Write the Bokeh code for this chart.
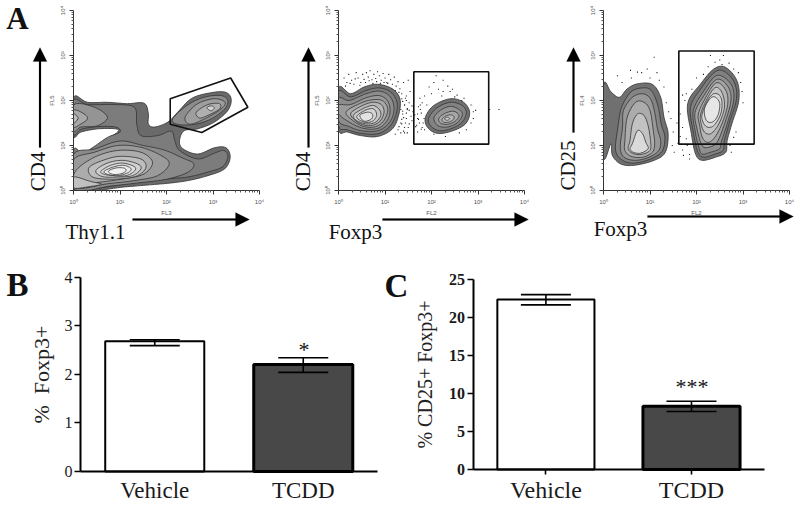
import math
from bokeh.plotting import figure
from bokeh.layouts import column, row
from bokeh.models import (PolyAnnotation, Label, FixedTicker, Range1d, Whisker,
                          TeeHead, ColumnDataSource)
from bokeh.embed import file_html
from bokeh.resources import INLINE

# ---- Bar chart data -------------------------------------------------------
CATS = ["Vehicle", "TCDD"]
CAT_POS = [1, 2]
B_MEAN = [2.68, 2.20]
B_UP = [2.71, 2.34]
B_LO = [2.59, 2.04]
C_MEAN = [22.4, 8.35]
C_UP = [23.05, 9.0]
C_LO = [21.7, 7.65]
B_TICKS = [0, 1, 2, 3, 4]
C_TICKS = [0, 5, 10, 15, 20, 25]

# ---- Flow plots: contours, hundredths of a decade ---------------------------
DECADE_TICKS = [1, 10, 100, 1000, 10000]
DECADE_LABELS = ["10⁰", "10¹", "10²", "10³", "10⁴"]

A1_RINGS = [
    [(0,207),(30,196),(73,196),(116,193),(152,194),(161,170),(161,148),(174,141),(203,152),(224,174),(253,204),(289,216),(325,219),(339,204),(332,178),(303,152),(267,137),(238,133),(228,111),(235,93),(267,81),(303,95),(328,95),(337,74),(325,48),(289,33),(246,22),(203,16),(145,11),(102,7),(52,0),(0,-4),(0,85),(19,80),(41,93),(73,115),(95,130),(91,137),(52,137),(16,130),(0,122)],
    [(0,200),(30,191),(88,191),(131,185),(136,148),(145,122),(181,122),(210,132),(218,111),(228,89),(267,70),(303,83),(323,89),(332,76),(321,53),(289,41),(246,30),(203,26),(145,19),(102,13),(45,4),(0,1),(0,90),(20,83),(42,96),(73,118),(100,130),(91,141),(52,142),(16,136),(0,126)],
    [(0,190),(45,185),(73,163),(52,144),(16,141),(0,133)],
    [(0,178),(23,170),(30,159),(16,148),(0,142)],
    [(0,170),(10,161),(0,150)],
    [(213,159),(244,189),(280,207),(317,211),(332,200),(325,181),(296,159),(260,147),(224,147)],
    [(242,167),(267,193),(303,204),(326,196),(317,181),(289,163),(256,148),(242,152)],
    [(264,174),(289,191),(314,193),(314,181),(289,167),(271,161)],
    [(287,184),(296,188),(303,184),(296,177)],
    [(0,80),(45,92),(100,110),(150,100),(195,90),(235,72),(259,59),(245,40),(200,25),(140,17),(80,10),(0,2)],
    [(0,68),(45,85),(95,100),(145,96),(188,78),(206,59),(181,33),(131,22),(73,15),(0,7)],
    [(5,44),(45,74),(95,89),(145,85),(170,63),(152,37),(109,26),(52,18),(1,13)],
    [(0,30),(37,20),(60,14),(30,8),(0,6)],
    [(34,52),(66,68),(102,76),(145,70),(156,52),(138,33),(102,26),(59,26),(37,33)],
    [(48,44),(73,61),(106,67),(138,59),(145,48),(127,33),(95,30),(62,31)],
    [(59,43),(80,56),(106,61),(131,53),(131,43),(113,33),(88,33),(66,36)],
    [(66,43),(88,53),(109,56),(124,48),(116,39),(95,33),(73,36)],
    [(75,43),(91,50),(108,50),(113,44),(102,37),(84,36)],
]
A1_GREYS = ["#6a6a6a", "#7c7c7c", "#949494", "#a8a8a8", "#bcbcbc",
            "#8c8c8c", "#9e9e9e", "#b0b0b0", "#d4d4d4",
            "#8a8a8a", "#9a9a9a", "#acacac", "#c0c0c0", "#bebebe", "#d0d0d0", "#dedede", "#e8e8e8", "#f0f0f0"]
A1_GATE = [(208,204),(338,250),(375,185),(276,129),(208,147)]

A2_RINGS = [
    [(0,228),(26,215),(55,230),(84,236),(116,226),(132,204),(130,170),(116,137),(84,120),(48,122),(19,130),(0,135)],
    [(0,220),(26,208),(59,222),(87,228),(112,219),(126,196),(123,167),(109,141),(84,126),(48,127),(19,135),(0,144)],
    [(0,205),(23,200),(59,215),(87,221),(109,211),(119,189),(116,163),(101,142),(80,132),(48,133),(23,142),(0,155)],
    [(0,190),(26,191),(59,206),(87,211),(105,200),(111,178),(105,156),(87,139),(59,137),(30,148),(0,170)],
    [(16,174),(41,191),(69,201),(94,200),(106,181),(98,156),(80,142),(55,142),(30,156)],
    [(26,170),(48,187),(73,196),(92,191),(98,174),(89,154),(69,144),(44,150)],
    [(32,167),(51,181),(73,189),(87,181),(91,167),(80,152),(62,148),(41,154)],
    [(39,164),(59,179),(76,181),(82,167),(73,154),(55,152)],
    [(46,167),(62,174),(73,170),(71,159),(55,154)],
    [(187,163),(205,189),(241,204),(269,196),(282,174),(273,148),(244,132),(212,127),(191,141)],
    [(194,161),(212,184),(241,196),(266,189),(275,172),(264,150),(241,137),(216,133),(198,144)],
    [(205,161),(219,178),(241,187),(261,179),(266,167),(255,150),(234,141),(214,144)],
    [(216,161),(230,172),(248,176),(259,167),(251,154),(234,147),(219,150)],
    [(223,159),(234,167),(246,167),(248,159),(237,152),(226,152)],
    [(228,159),(234,163),(239,160),(234,156)],
]
A2_GREYS = ["#707070", "#7e7e7e", "#8c8c8c", "#9a9a9a", "#a8a8a8", "#b8b8b8", "#c8c8c8", "#d6d6d6", "#e2e2e2",
            "#707070", "#828282", "#949494", "#a6a6a6", "#b8b8b8", "#cecece"]
A2_GATE = [(162,264),(323,264),(323,103),(162,103)]
A2_DOTS_X = [12,18,22,28,33,38,42,48,52,55,60,64,68,72,76,80,84,88,92,96,100,104,108,112,116,120,124,128,132,136,140,144,138,142,134,146,140,136,144,150,128,134,148,152,156,146,154,142,122,150,158,160,170,172,176,168,180,175,185,190,195,205,210,225,235,240,215,200,222,255,270,285,290,295,285,290,275,260,230,205,345,325,180,185,250,265,245,225,
             15,25,36,46,58,66,74,82,90,98,106,114,122,130,126,136,142,148,138,132,146,152,136,142,148,140,134,130,138,146,152,158,164,170,174,166,172,178,182,176,184,170,178]
A2_DOTS_Y = [250,240,258,245,236,262,250,240,258,247,262,252,266,246,258,249,264,255,245,260,250,240,258,246,236,252,232,242,226,215,240,205,198,190,180,172,162,148,150,140,135,128,180,195,165,210,220,128,125,245,155,175,170,158,180,145,195,205,210,190,230,240,255,245,232,220,225,215,210,212,205,190,175,178,150,160,135,128,120,125,180,180,140,135,208,200,225,220,
             232,238,248,234,240,244,238,242,238,240,238,226,222,218,208,204,190,182,170,196,160,148,158,140,128,132,150,142,176,200,178,188,168,160,150,142,186,172,150,190,160,130,136]

A3_RINGS = [
    [(0,233),(16,219),(34,207),(51,226),(73,237),(105,236),(123,207),(130,163),(139,126),(133,85),(109,67),(66,56),(37,59),(19,78),(16,104),(0,74)],
    [(31,141),(39,185),(59,219),(84,228),(103,222),(117,189),(124,148),(132,119),(126,87),(101,70),(66,61),(41,67),(26,89)],
    [(41,141),(43,178),(62,207),(84,215),(101,204),(110,174),(116,137),(123,111),(119,89),(98,74),(69,67),(44,74),(36,96)],
    [(46,111),(51,163),(69,196),(87,196),(100,178),(107,133),(110,104),(105,85),(84,74),(59,76),(46,89)],
    [(57,111),(62,148),(73,170),(87,167),(96,144),(101,111),(100,89),(80,80),(62,83),(53,93)],
    [(62,104),(73,133),(84,126),(91,107),(96,93),(80,83),(64,85),(57,93)],
    [(181,193),(209,237),(237,270),(262,274),(287,244),(291,200),(276,148),(266,111),(263,85),(241,74),(212,67),(198,81),(189,126)],
    [(187,185),(212,230),(239,263),(259,265),(281,241),(286,204),(271,152),(260,111),(257,89),(237,80),(216,74),(203,85),(194,126)],
    [(193,178),(216,222),(239,253),(257,253),(276,233),(280,200),(266,148),(253,107),(250,93),(230,85),(212,81),(205,96),(197,133)],
    [(197,174),(216,211),(239,244),(256,244),(272,222),(273,193),(259,144),(244,107),(226,96),(212,100),(201,137)],
    [(204,170),(220,207),(239,237),(253,236),(266,215),(266,185),(253,144),(237,115),(223,107),(212,119),(207,144)],
    [(209,170),(223,204),(239,228),(251,224),(259,204),(259,178),(246,144),(230,126),(217,130),(210,148)],
    [(212,170),(224,200),(237,215),(250,211),(255,193),(251,167),(237,144),(223,141),(214,152)],
    [(217,181),(230,205),(241,207),(250,193),(246,167),(234,152),(221,156)],
]
A3_GREYS = ["#707070", "#848484", "#989898", "#acacac", "#c2c2c2", "#dadada",
            "#707070", "#808080", "#909090", "#a2a2a2", "#b4b4b4", "#c6c6c6", "#d6d6d6", "#e6e6e6"]
A3_GATE = [(162,310),(324,310),(324,103),(162,103)]
A3_DOTS_X = [58,73,109,94,82,60,30,40,100,120,115,130,135,140,145,150,148,152,160,165,170,158,165,170,175,180,178,185,172,170,178,190,200,215,225,240,250,258,270,280,290,295,298,300,285,280,272,275,185,255,230]
A3_DOTS_Y = [267,263,296,270,262,250,255,240,250,245,262,230,195,175,160,130,100,85,105,120,90,150,170,140,200,100,115,80,78,212,215,225,250,258,275,285,290,300,283,270,262,240,220,195,130,118,100,85,70,280,300]

# ---- Helpers --------------------------------------------------------------
SERIF = "Liberation Serif"
SANS = "Liberation Sans"


def smooth(ring, n=6):
    """Closed Catmull-Rom curve through the points that were read, held inside the axes."""
    out_x, out_y = [], []
    m = len(ring)
    for i in range(m):
        p0, p1, p2, p3 = ring[i - 1], ring[i], ring[(i + 1) % m], ring[(i + 2) % m]
        for k in range(n):
            t = k / n
            cx = 0.5 * (2 * p1[0] + (p2[0] - p0[0]) * t + (2 * p0[0] - 5 * p1[0] + 4 * p2[0] - p3[0]) * t * t + (3 * p1[0] - p0[0] - 3 * p2[0] + p3[0]) * t ** 3)
            cy = 0.5 * (2 * p1[1] + (p2[1] - p0[1]) * t + (2 * p0[1] - 5 * p1[1] + 4 * p2[1] - p3[1]) * t * t + (3 * p1[1] - p0[1] - 3 * p2[1] + p3[1]) * t ** 3)
            out_x.append(10 ** (max(cx, 0) / 100))
            out_y.append(10 ** (max(cy, 0) / 100))
    return out_x, out_y


def decades(values):
    return [10 ** (v / 100) for v in values]


def put_text(p, rx, ry, text, size, bold=False, angle=0, font=SERIF, color="#111111"):
    p.add_layout(Label(x=rx, y=p.height - ry, x_units="screen", y_units="screen", text=text,
                       text_font=font, text_font_size=f"{size}px", text_color=color,
                       text_font_style="bold" if bold else "normal", angle=angle,
                       text_align="center", text_baseline="middle"))


def put_arrow(p, x0, y0, x1, y1, head=14, half=1.0):
    """Shaft and head as one filled shape, in the canvas's own pixels."""
    length = math.hypot(x1 - x0, y1 - y0)
    ux, uy = (x1 - x0) / length, (y1 - y0) / length
    nx, ny = -uy, ux
    hw = head / 2
    bx, by = x1 - ux * head, y1 - uy * head
    xs = [x0 + nx * half, bx + nx * half, bx + nx * hw, x1, bx - nx * hw, bx - nx * half, x0 - nx * half]
    ys = [y0 + ny * half, by + ny * half, by + ny * hw, y1, by - ny * hw, by - ny * half, y0 - ny * half]
    p.add_layout(PolyAnnotation(xs=xs, ys=[p.height - v for v in ys], xs_units="screen", ys_units="screen",
                                fill_color="black", fill_alpha=1, line_color="black", line_width=0.5,
                                level="overlay"))


def flow_plot(width, origin_x, xlabel, ylabel, rings, greys, gate, dots=None):
    height = 246
    dec_x, dec_y, origin_y = 46.5, 45.0, 190.0
    p = figure(width=width, height=height, output_backend="svg", toolbar_location=None,
               x_axis_type="log", y_axis_type="log",
               x_range=Range1d(10 ** (-origin_x / dec_x), 10 ** ((width - origin_x) / dec_x)),
               y_range=Range1d(10 ** (-(height - origin_y) / dec_y), 10 ** (origin_y / dec_y)),
               min_border=0)
    p.outline_line_color = None
    p.grid.visible = False
    minors = [m * d for d in (1, 10, 100, 1000) for m in range(2, 10)]
    for ax, orient in ((p.xaxis[0], "horizontal"), (p.yaxis[0], "vertical")):
        ax.fixed_location = 1
        ax.bounds = (1, 10000)
        ax.ticker = FixedTicker(ticks=DECADE_TICKS, minor_ticks=minors)
        ax.major_label_overrides = dict(zip(DECADE_TICKS, DECADE_LABELS))
        ax.major_label_text_font = SANS
        ax.major_label_text_font_size = "6px"
        ax.major_label_text_color = "#555555"
        ax.major_label_orientation = orient
        ax.major_label_standoff = 4
        ax.axis_line_color = "#333333"
        ax.major_tick_line_color = "#333333"
        ax.minor_tick_line_color = "#555555"
        ax.major_tick_in = 0
        ax.major_tick_out = 4
        ax.minor_tick_in = 0
        ax.minor_tick_out = 2
        ax.axis_label_text_font = SANS
        ax.axis_label_text_font_size = "6px"
        ax.axis_label_text_font_style = "normal"
        ax.axis_label_text_color = "#555555"
        ax.axis_label_standoff = 2
    p.xaxis.axis_label = xlabel
    p.yaxis.axis_label = ylabel
    if dots:
        p.scatter(decades(dots[0]), decades(dots[1]), marker="square", size=1.1, color="#222222", line_width=0)
    xs, ys = zip(*[smooth(r) for r in rings])
    p.patches(list(xs), list(ys), fill_color=greys, line_color="#333333", line_width=0.8)
    p.patch(decades([g[0] for g in gate]), decades([g[1] for g in gate]),
            fill_color=None, line_color="#111111", line_width=1.6)
    return p


def bar_plot(width, centre, spacing, zero_y, px_per_unit, means, ups, los, ticks, ymax, ylabel, lab_size,
             tick_bold, x_ticks, cat_size, lab_standoff):
    height = 262
    p = figure(width=width, height=height, output_backend="svg", toolbar_location=None,
               x_range=Range1d(1 - centre / spacing, 1 + (width - centre) / spacing),
               y_range=Range1d(-(height - zero_y) / px_per_unit, zero_y / px_per_unit),
               min_border=0)
    p.outline_line_color = None
    p.grid.visible = False
    src = ColumnDataSource(dict(x=CAT_POS, top=means, up=ups, lo=los,
                                fill=["white", "#484848"], lw=[2, 3]))
    p.vbar(x="x", top="top", width=0.667, source=src, fill_color="fill", line_color="black", line_width="lw")
    p.add_layout(Whisker(base="x", upper="up", lower="lo", source=src, line_width=1.6, line_color="black",
                         level="overlay",
                         upper_head=TeeHead(size=50, line_width=1.6, line_color="black"),
                         lower_head=TeeHead(size=50, line_width=1.6, line_color="black")))
    ya, xa = p.yaxis[0], p.xaxis[0]
    ya.fixed_location = 0.5
    ya.bounds = (0, ymax)
    ya.ticker = FixedTicker(ticks=ticks)
    ya.minor_tick_line_color = None
    ya.major_tick_in = 0
    ya.major_tick_out = 6
    ya.major_tick_line_width = 1.6
    ya.axis_line_width = 2
    ya.major_label_text_font = SERIF
    ya.major_label_text_font_size = "16px"
    ya.major_label_text_font_style = "bold" if tick_bold else "normal"
    ya.major_label_text_color = "#1a1a1a"
    ya.major_label_standoff = 2
    ya.axis_label = ylabel
    ya.axis_label_text_font = SERIF
    ya.axis_label_text_font_size = f"{lab_size}px"
    ya.axis_label_text_font_style = "normal"
    ya.axis_label_text_color = "#222222"
    ya.axis_label_standoff = lab_standoff
    xa.fixed_location = 0
    xa.bounds = (0.5, 2.5)
    xa.ticker = FixedTicker(ticks=CAT_POS)
    xa.major_label_overrides = dict(zip(CAT_POS, CATS))
    xa.axis_line_width = 2
    xa.major_tick_line_width = 1.6 if x_ticks else 0
    xa.major_tick_line_color = "black" if x_ticks else None
    xa.major_tick_in = 0
    xa.major_tick_out = 5 if x_ticks else 0
    xa.minor_tick_line_color = None
    xa.major_label_text_font = SERIF
    xa.major_label_text_font_size = f"{cat_size}px"
    xa.major_label_text_color = "#1a1a1a"
    xa.major_label_standoff = 6 if not x_ticks else 2
    return p


# ---- Panel A --------------------------------------------------------------
a1 = flow_plot(264, 73, "FL3", "FL5", A1_RINGS, A1_GREYS, A1_GATE)
a2 = flow_plot(268, 74, "FL2", "FL5", A2_RINGS, A2_GREYS, A2_GATE, (A2_DOTS_X, A2_DOTS_Y))
a3 = flow_plot(268, 71, "FL2", "FL4", A3_RINGS, A3_GREYS, A3_GATE, (A3_DOTS_X, A3_DOTS_Y))

put_text(a1, 17, 18, "A", 31, bold=True)
put_text(a1, 37, 171, "CD4", 21, angle=math.pi / 2)
put_text(a1, 95, 231, "Thy1.1", 21)
put_arrow(a1, 39.5, 147, 39.5, 47)
put_arrow(a1, 132, 219, 249, 219)

put_text(a2, 302 - 264, 171, "CD4", 21, angle=math.pi / 2)
put_text(a2, 355 - 264, 231, "Foxp3", 21)
put_arrow(a2, 308 - 264, 147, 308 - 264, 47)
put_arrow(a2, 382 - 264, 219, 528 - 264, 219)

put_text(a3, 567 - 532, 165, "CD25", 21, angle=math.pi / 2)
put_text(a3, 620 - 532, 228, "Foxp3", 21)
put_arrow(a3, 573 - 532, 132, 573 - 532, 47)
put_arrow(a3, 647 - 532, 216, 793 - 532, 216)

# ---- Panels B and C -------------------------------------------------------
b = bar_plot(380, 154.25, 148.5, 225, 48.6, B_MEAN, B_UP, B_LO, B_TICKS, 4, "%\u00a0\u00a0Foxp3+", 22,
             False, False, 23, 8)
put_text(b, 17, 38, "B", 33, bold=True)
put_text(b, 303.5, 103, "*", 22)

c = bar_plot(420, 165.4, 145.6, 223, 7.588, C_MEAN, C_UP, C_LO, C_TICKS, 25, "% CD25+ Foxp3+", 20,
             True, True, 24, 11)
put_text(c, 16, 39, "C", 33, bold=True)
put_text(c, 311.5, 140, "***", 22)

page = column(row(a1, a2, a3, spacing=0), row(b, c, spacing=0), spacing=0)
open("out.html", "w").write(file_html(page, INLINE))
